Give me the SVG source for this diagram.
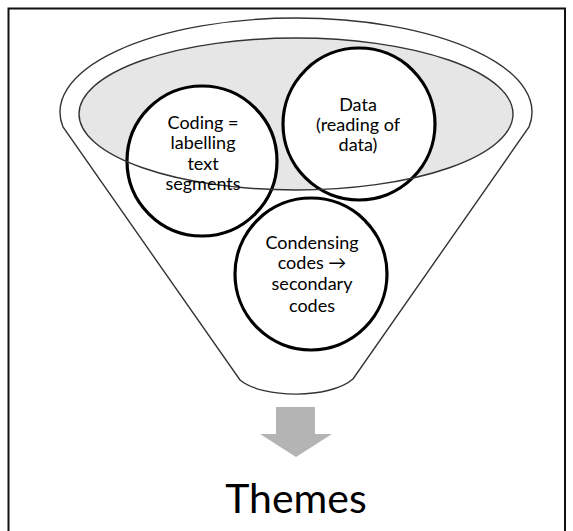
<svg xmlns="http://www.w3.org/2000/svg" width="573" height="531" viewBox="0 0 573 531">
<style>
.frame{fill:none;stroke:#111;stroke-width:2}
.funnel{fill:#fff;stroke:#333;stroke-width:1.4}
.bowl{fill:#e6e6e6;stroke:none}
.bowl-line{fill:none;stroke:#333;stroke-width:1.4}
.node{fill:#fff;stroke:#000;stroke-width:3.2}
.lbl{font-family:Lato,"Open Sans","Liberation Sans",sans-serif;font-size:18px;fill:#000;text-anchor:middle}
.big{font-family:Lato,"Open Sans","Liberation Sans",sans-serif;font-size:41px;fill:#000;text-anchor:middle}
.arrow{fill:#b4b4b4;stroke:none}
</style>
<rect width="573" height="531" fill="#fff"/>
<path class="frame" d="M8.5,531 V8.5 H565 V531"/>
<g id="funnel">
<path class="funnel" d="M63,127 A236,94 0 1 1 529,127 L353,379 C330,399 263,399 240,380 Z"/>
<ellipse class="bowl" cx="296" cy="114" rx="217" ry="76"/>
</g>
<g id="node-coding">
<circle class="node" cx="202" cy="161" r="75"/>
</g>
<g id="node-data">
<circle class="node" cx="359" cy="124" r="76"/>
</g>
<g id="node-condensing">
<circle class="node" cx="311" cy="274" r="76"/>
</g>
<g id="bowl-rim">
<ellipse class="bowl-line" cx="296" cy="114" rx="217" ry="76"/>
</g>
<g id="labels">
<text class="lbl" x="203" y="129">Coding =</text>
<text class="lbl" x="203" y="149">labelling</text>
<text class="lbl" x="203" y="170">text</text>
<text class="lbl" x="203" y="190">segments</text>
<text class="lbl" x="358" y="111">Data</text>
<text class="lbl" x="358" y="131">(reading of</text>
<text class="lbl" x="358" y="151">data)</text>
<text class="lbl" x="312" y="249">Condensing</text>
<text class="lbl" x="312" y="269">codes →</text>
<text class="lbl" x="312" y="290">secondary</text>
<text class="lbl" x="312" y="312">codes</text>
</g>
<g id="connectors">
<path class="arrow" d="M276,407 H315 V434 H332 L296,457 L260,434 H276 Z"/>
</g>
<g id="node-themes">
<text class="big" x="296" y="513">Themes</text>
</g>
</svg>
